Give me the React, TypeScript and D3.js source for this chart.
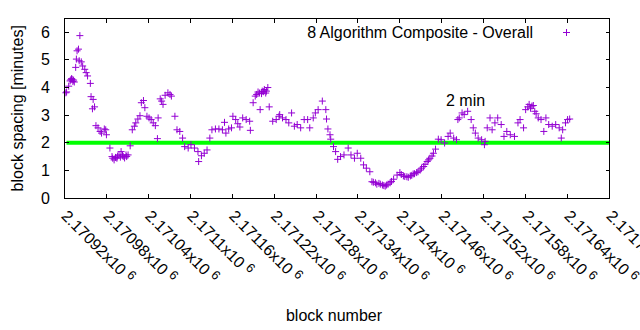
import React from "react";
import * as d3 from "d3";

const blockNumbers = [
  2170922, 2170923, 2170926, 2170928, 2170930, 2170933, 2170934, 2170936, 2170937, 2170938,
  2170940, 2170941, 2170942, 2170944, 2170946, 2170949, 2170951, 2170953, 2170957, 2170958,
  2170960, 2170961, 2170963, 2170965, 2170968, 2170971, 2170973, 2170977, 2170979, 2170980,
  2170985, 2170988, 2170991, 2170995, 2170998, 2171001, 2171004, 2171009, 2171011, 2171014,
  2171017, 2171020, 2171022, 2171025, 2171028, 2171030, 2171033, 2171035, 2171038, 2171041,
  2171044, 2171047, 2171050, 2171053, 2171054, 2171057, 2171059, 2171061, 2171064, 2171068,
  2171071, 2171073, 2171078, 2171081, 2171085, 2171089, 2171092, 2171097, 2171101, 2171106,
  2171111, 2171112, 2171116, 2171120, 2171124, 2171128, 2171131, 2171136, 2171141, 2171146,
  2171149, 2171151, 2171155, 2171159, 2171161, 2171165, 2171168, 2171171, 2171175, 2171180,
  2171185, 2171186, 2171190, 2171193, 2171197, 2171200, 2171203, 2171206, 2171209, 2171211,
  2171213, 2171218, 2171223, 2171227, 2171228, 2171232, 2171237, 2171241, 2171245, 2171249,
  2171253, 2171258, 2171263, 2171268, 2171271, 2171276, 2171279, 2171283, 2171289, 2171294,
  2171295, 2171297, 2171300, 2171301, 2171305, 2171308, 2171311, 2171315, 2171320, 2171326,
  2171330, 2171335, 2171339, 2171344, 2171348, 2171352, 2171357, 2171360, 2171365, 2171370,
  2171375, 2171379, 2171381, 2171386, 2171391, 2171396, 2171400, 2171405, 2171410, 2171415,
  2171419, 2171424, 2171429, 2171434, 2171439, 2171443, 2171448, 2171451, 2171455, 2171459,
  2171464, 2171469, 2171472, 2171477, 2171481, 2171483, 2171485, 2171489, 2171492, 2171497,
  2171502, 2171505, 2171508, 2171512, 2171517, 2171521, 2171522, 2171525, 2171529, 2171532,
  2171536, 2171540, 2171545, 2171549, 2171553, 2171558, 2171564, 2171569, 2171572, 2171577,
  2171580, 2171585, 2171589, 2171593, 2171598, 2171602, 2171606, 2171609, 2171613, 2171618,
  2171623, 2171628, 2171631, 2171633, 2171637, 2171640, 2171643,
  // denser parts of the cloud
  2170929, 2170931, 2170932, 2170989, 2170993, 2170996, 2171000, 2171003, 2171006, 2171008,
  2171195, 2171199, 2171202, 2171205, 2171208, 2171362, 2171367, 2171372, 2171377, 2171383,
  2171388, 2171402, 2171407, 2171412, 2171417, 2171421, 2171426, 2171431, 2171436, 2171441,
  2171446, 2171583, 2171587, 2171591, 2171595,
];

const spacingMinutes = [
  3.81, 3.84, 4.05, 4.24, 4.32, 4.27, 4.2, 4.73, 5.03, 5.33,
  5.39, 4.97, 5.88, 4.93, 4.78, 4.66, 4.54, 4.42, 4.15, 3.67,
  3.23, 3.57, 3.3, 2.62, 2.54, 2.41, 2.35, 2.5, 2.47, 2.29,
  1.81, 1.5, 1.38, 1.44, 1.56, 1.68, 1.5, 1.5, 1.56, 1.89,
  2.47, 2.6, 2.72, 2.86, 2.98, 3.45, 3.53, 3.27, 2.96, 2.9,
  2.84, 2.72, 2.62, 2.15, 2.9, 3.59, 3.51, 3.39, 3.72, 3.81,
  3.75, 3.69, 2.96, 2.47, 2.41, 2.17, 1.86, 1.81, 1.93, 1.81,
  1.68, 1.32, 1.53, 1.62, 1.74, 2.17, 2.47, 2.5, 2.5, 2.47,
  2.74, 2.35, 2.5, 2.54, 2.96, 2.84, 2.69, 2.57, 2.9, 2.84,
  2.78, 2.45, 3.45, 3.69, 3.84, 3.2, 3.87, 3.93, 3.87, 4.0,
  3.3, 2.78, 2.84, 2.96, 3.02, 2.9, 2.84, 2.72, 3.08, 2.6,
  2.66, 2.54, 2.84, 2.84, 2.54, 2.9, 3.08, 3.2, 3.51, 3.2,
  2.86, 2.5, 2.29, 2.13, 1.86, 1.68, 1.4, 1.5, 1.56, 1.81,
  1.56, 1.44, 1.62, 1.44, 1.2, 1.08, 0.95, 0.59, 0.55, 0.53,
  0.47, 0.43, 0.47, 0.55, 0.68, 0.83, 0.92, 0.8, 0.77, 0.8,
  0.87, 0.92, 1.01, 1.14, 1.32, 1.44, 1.62, 1.77, 2.13, 2.11,
  1.99, 2.23, 2.35, 2.17, 2.11, 2.84, 2.9, 3.08, 3.02, 3.14,
  2.84, 2.54, 2.35, 2.17, 2.11, 1.93, 2.05, 2.54, 2.9, 2.47,
  2.72, 2.9, 2.66, 2.23, 2.41, 2.29, 2.23, 2.72, 2.84, 2.54,
  3.2, 3.39, 3.33, 3.14, 2.9, 2.84, 2.41, 2.9, 2.66, 2.6,
  2.66, 2.54, 2.17, 2.47, 2.72, 2.84, 2.86,
  // denser parts of the cloud
  4.28, 4.3, 4.22, 1.44, 1.47, 1.52, 1.48, 1.55, 1.45, 1.56,
  3.75, 3.8, 3.78, 3.85, 3.8, 0.57, 0.5, 0.5, 0.45, 0.5,
  0.6, 0.85, 0.78, 0.75, 0.82, 0.88, 0.95, 1.08, 1.22, 1.38,
  1.52, 3.3, 3.25, 3.35, 3.05,
];

const xTickValues = [
  2170920, 2170980, 2171040, 2171100, 2171160, 2171220, 2171280,
  2171340, 2171400, 2171460, 2171520, 2171580, 2171640, 2171700,
];
const xTickMantissas = [
  "2.17092", "2.17098", "2.17104", "2.1711", "2.17116", "2.17122", "2.17128",
  "2.17134", "2.1714", "2.17146", "2.17152", "2.17158", "2.17164", "2.1717",
];
const yTickValues = [0, 1, 2, 3, 4, 5, 6];
const referenceLevel = 2;
const legendLabel = "8 Algorithm Composite - Overall";
const annotation = { text: "2 min", block: 2171466, minutes: 3.32 };

const W = 640;
const H = 330;
const M = { left: 64.5, right: 609.5, top: 18.5, bottom: 198 };
const FONT = "'Liberation Sans', Arial, sans-serif";
const PURPLE = "#9400d3";

export default function App() {
  const x = d3.scaleLinear().domain([2170920, 2171700]).range([M.left, M.right]);
  const y = d3.scaleLinear().domain([0, 6.5]).range([M.bottom, M.top]);
  const pts = d3.zip(blockNumbers, spacingMinutes) as [number, number][];
  const s = 3.5;
  const plusPath = (cx: number, cy: number) =>
    `M${cx - s},${cy}H${cx + s}M${cx},${cy - s}V${cy + s}`;
  const tick = 4;
  const markers = pts.map(([b, m]) => plusPath(x(b), y(m))).join("");

  return (
    <svg
      width={W}
      height={H}
      style={{ position: "absolute", left: 0, top: 0, background: "#fff" }}
      fontFamily={FONT}
    >
      <rect x={0} y={0} width={W} height={H} fill="#fff" />
      <line
        x1={M.left + 2}
        x2={M.right}
        y1={y(referenceLevel)}
        y2={y(referenceLevel)}
        stroke="#00ff00"
        strokeWidth={4}
      />
      <path d={markers} stroke={PURPLE} strokeWidth={1} fill="none" />
      <rect
        x={M.left}
        y={M.top}
        width={M.right - M.left}
        height={M.bottom - M.top}
        fill="none"
        stroke="#000"
        strokeWidth={1}
        shapeRendering="crispEdges"
      />
      {yTickValues.map((v) => (
        <g key={"y" + v}>
          <line x1={M.left} x2={M.left + tick} y1={y(v)} y2={y(v)} stroke="#000" shapeRendering="crispEdges" />
          <line x1={M.right - tick} x2={M.right} y1={y(v)} y2={y(v)} stroke="#000" shapeRendering="crispEdges" />
          <text x={50} y={y(v)} textAnchor="end" dominantBaseline="central" fontSize={16} fill="#000">
            {v}
          </text>
        </g>
      ))}
      {xTickValues.map((v, i) => {
        const px = x(v);
        const ax = px - 4;
        const ay = 217;
        return (
          <g key={"x" + v}>
            <line x1={px} x2={px} y1={M.bottom} y2={M.bottom - tick} stroke="#000" shapeRendering="crispEdges" />
            <line x1={px} x2={px} y1={M.top} y2={M.top + tick} stroke="#000" shapeRendering="crispEdges" />
            <text
              x={ax}
              y={ay}
              transform={`rotate(45 ${ax} ${ay})`}
              fontSize={16}
              fill="#000"
            >
              {xTickMantissas[i] + "x10 "}
              <tspan fontSize={12.8} dy={-5}>6</tspan>
            </text>
          </g>
        );
      })}
      <text x={334} y={321} textAnchor="middle" fontSize={16} fill="#000">
        block number
      </text>
      <text
        transform={`translate(23,${(M.top + M.bottom) / 2}) rotate(-90)`}
        textAnchor="middle"
        fontSize={16}
        fill="#000"
      >
        block spacing [minutes]
      </text>
      <text x={533} y={32} textAnchor="end" dominantBaseline="central" fontSize={16} fill="#000">
        {legendLabel}
      </text>
      <path d={plusPath(566.5, 32.5)} stroke={PURPLE} strokeWidth={1} fill="none" />
      <text x={x(annotation.block)} y={y(annotation.minutes)} fontSize={16} fill="#000">
        {annotation.text}
      </text>
    </svg>
  );
}
